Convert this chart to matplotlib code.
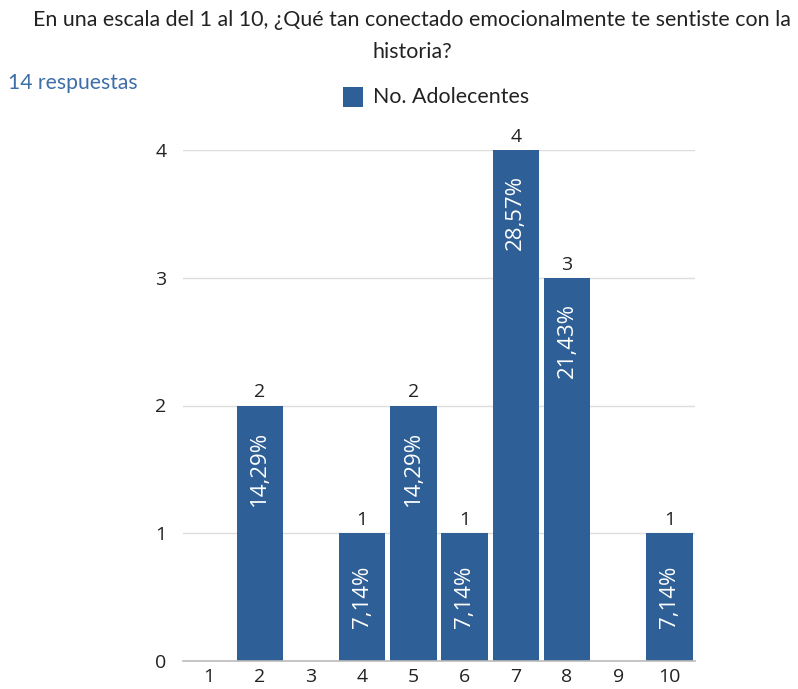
import matplotlib
matplotlib.use("Agg")
import matplotlib.pyplot as plt
from matplotlib.patches import Rectangle

categories = ["1", "2", "3", "4", "5", "6", "7", "8", "9", "10"]
values = [0, 2, 0, 1, 2, 1, 4, 3, 0, 1]
percents = ["", "14,29%", "", "7,14%", "14,29%", "7,14%", "28,57%", "21,43%", "", "7,14%"]
yticks = [0, 1, 2, 3, 4]
title = "En una escala del 1 al 10, ¿Qué tan conectado emocionalmente te sentiste con la\nhistoria?"
series_name = "No. Adolecentes"
responses = "14 respuestas"

BAR = "#2e5f96"
FONT = ["Open Sans", "DejaVu Sans"]
TFONT = ["Lato", "DejaVu Sans"]

W, H = 798, 689
fig = plt.figure(figsize=(W / 100, H / 100), dpi=100)
ax = fig.add_axes([183 / W, 1 - 661 / H, 512 / W, (661 - 150) / H])

x = list(range(1, len(categories) + 1))
bars = ax.bar(x, values, width=0.91, color=BAR, edgecolor="none", zorder=3)

ax.set_xlim(0.5, len(categories) + 0.5)
ax.set_ylim(0, 4)
ax.set_yticks(yticks)
ax.set_yticklabels([str(t) for t in yticks], fontfamily=FONT, fontsize=14, color="#222222")
ax.set_xticks(x)
ax.set_xticklabels(categories, fontfamily=FONT, fontsize=14, color="#222222")
ax.tick_params(axis="both", length=0)
ax.tick_params(axis="y", pad=12)
ax.tick_params(axis="x", pad=5)
for s in ["top", "right", "left"]:
    ax.spines[s].set_visible(False)
ax.spines["bottom"].set_color("#bbbbbb")
ax.spines["bottom"].set_linewidth(1.2)
ax.spines["bottom"].set_zorder(4)
ax.yaxis.grid(True, color="#dddddd", linewidth=1.0, zorder=0)
ax.set_axisbelow(True)

for xi, v, p in zip(x, values, percents):
    if v <= 0:
        continue
    ax.annotate(str(v), (xi, v), xytext=(0, 3), textcoords="offset points",
                ha="center", va="bottom", fontsize=14, fontfamily=FONT,
                color="#222222", annotation_clip=False)
    if v >= 2:
        ax.annotate(p, (xi, v), xytext=(0, -18), textcoords="offset points",
                    ha="center", va="top", rotation=90, fontsize=16,
                    fontfamily=FONT, color="white")
    else:
        ax.text(xi, v / 2, p, ha="center", va="center", rotation=90,
                fontsize=16, fontfamily=FONT, color="white")

fig.text(412 / W, 1 - 36 / H, title, ha="center", va="center",
         fontsize=15.4, fontfamily=TFONT, color="#222222", linespacing=1.7)
fig.text(8 / W, 1 - 83 / H, responses, ha="left", va="center",
         fontsize=15.2, fontfamily=TFONT, color="#3d6ea8")

# legend
fig.patches.append(Rectangle((343 / W, 1 - 107 / H), 20 / W, 20 / H,
                             transform=fig.transFigure, facecolor=BAR,
                             edgecolor="none"))
fig.text(373 / W, 1 - 97 / H, series_name, ha="left", va="center",
         fontsize=15.4, fontfamily=TFONT, color="#222222")

fig.savefig("out.png", dpi=100)
